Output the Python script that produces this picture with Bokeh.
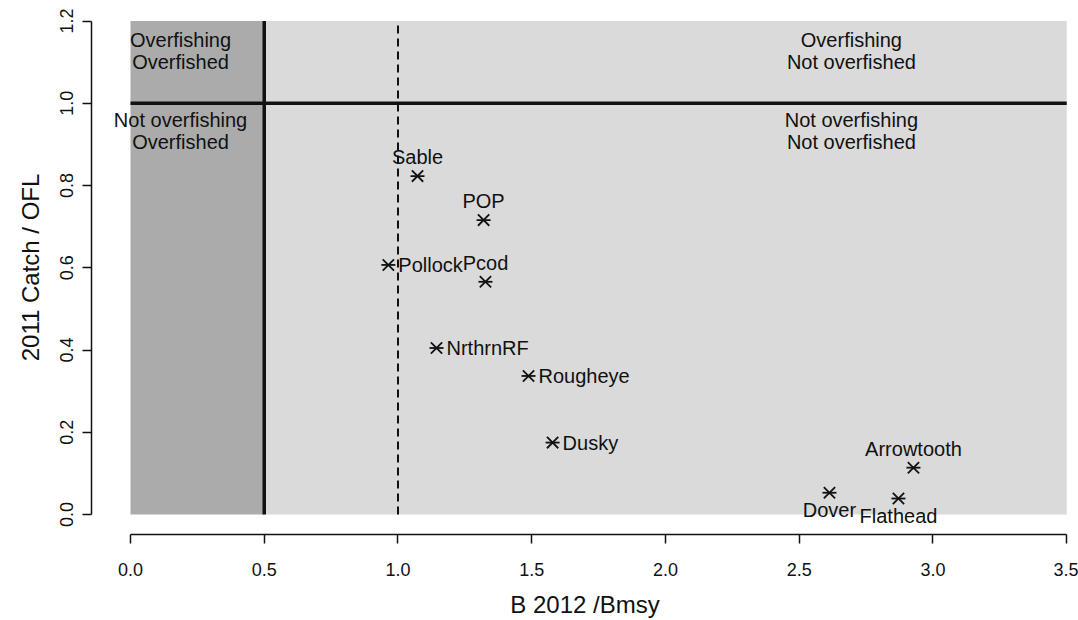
from bokeh.plotting import figure
from bokeh.models import FixedTicker, NumeralTickFormatter, ColumnDataSource
from bokeh.core.properties import value
from bokeh.embed import file_html
from bokeh.resources import INLINE

# ---------------- data ----------------
stocks = ["Sable", "POP", "Pollock", "Pcod", "NrthrnRF", "Rougheye", "Dusky",
          "Arrowtooth", "Dover", "Flathead"]
b_ratio = [1.073, 1.320, 0.964, 1.327, 1.144, 1.488, 1.578, 2.927, 2.613, 2.871]
catch_ofl = [0.823, 0.716, 0.607, 0.566, 0.405, 0.337, 0.175, 0.114, 0.053, 0.039]
label_side = ["above", "above", "right", "above", "right", "right", "right",
              "above", "below", "below"]

x_ticks = [0.0, 0.5, 1.0, 1.5, 2.0, 2.5, 3.0, 3.5]
y_ticks = [0.0, 0.2, 0.4, 0.6, 0.8, 1.0, 1.2]

b_limit = 0.5      # overfished threshold
b_target = 1.0     # Bmsy
ofl_limit = 1.0    # overfishing threshold
x_lim = (0.0, 3.5)
y_lim = (0.0, 1.2)

quadrant_text = ["Overfishing\nOverfished", "Not overfishing\nOverfished",
                 "Overfishing\nNot overfished", "Not overfishing\nNot overfished"]
quadrant_x = [0.187, 0.187, 2.695, 2.695]
quadrant_y = [1.126, 0.933, 1.126, 0.933]

FONT = "Liberation Sans"

# ---------------- figure ----------------
p = figure(width=1078, height=620,
           x_range=(-0.1458, 3.544), y_range=(-0.0485, 1.25),
           output_backend="svg", toolbar_location=None,
           min_border_left=91, min_border_right=0,
           min_border_top=0, min_border_bottom=85)
p.outline_line_color = None
p.grid.visible = False
p.background_fill_color = "white"
p.border_fill_color = "white"

# background shading (scanned grey)
p.quad(left=[x_lim[0]], right=[b_limit], bottom=[y_lim[0]], top=[y_lim[1]],
       fill_color="#ababab", line_color=None)
p.quad(left=[b_limit], right=[x_lim[1]], bottom=[y_lim[0]], top=[y_lim[1]],
       fill_color="#dadada", line_color=None)

# reference lines
p.segment(x0=[x_lim[0]], x1=[x_lim[1]], y0=[ofl_limit], y1=[ofl_limit],
          line_color="#111111", line_width=3.5)
p.segment(x0=[b_limit], x1=[b_limit], y0=[y_lim[0]], y1=[y_lim[1]],
          line_color="#111111", line_width=3.5)
p.segment(x0=[b_target], x1=[b_target], y0=[y_lim[0]], y1=[y_lim[1]],
          line_color="#111111", line_width=2, line_dash="8 5")

# quadrant labels
p.text(x=quadrant_x, y=quadrant_y, text=quadrant_text,
       text_font=value(FONT), text_font_size="20px", text_color="#111111",
       text_align="center", text_baseline="middle", text_line_height=1.0)

# points: six-armed asterisk (diagonal cross + horizontal bar)
src = ColumnDataSource(dict(x=b_ratio, y=catch_ofl, name=stocks, side=label_side))
p.scatter(x="x", y="y", source=src, marker="x", size=16,
          line_color="#111111", line_width=1.8)
p.scatter(x="x", y="y", source=src, marker="dash", size=14,
          line_color="#111111", line_width=1.8)

# point labels by side
offsets = {"above": dict(x_offset=0, y_offset=-19, text_align="center"),
           "right": dict(x_offset=10, y_offset=0, text_align="left"),
           "below": dict(x_offset=0, y_offset=17, text_align="center")}
for side, opts in offsets.items():
    idx = [i for i, s in enumerate(label_side) if s == side]
    p.text(x=[b_ratio[i] for i in idx], y=[catch_ofl[i] for i in idx],
           text=[stocks[i] for i in idx],
           text_font=value(FONT), text_font_size="20px", text_color="#111111",
           text_baseline="middle", **opts)

# axes (R style)
p.xaxis.ticker = FixedTicker(ticks=x_ticks)
p.yaxis.ticker = FixedTicker(ticks=y_ticks)
p.xaxis.formatter = NumeralTickFormatter(format="0.0")
p.yaxis.formatter = NumeralTickFormatter(format="0.0")
p.xaxis.bounds = x_lim
p.yaxis.bounds = y_lim
for ax in (p.xaxis, p.yaxis):
    ax.axis_line_color = "#111111"
    ax.axis_line_width = 1.5
    ax.major_tick_line_color = "#111111"
    ax.major_tick_line_width = 1.5
    ax.major_tick_in = 0
    ax.major_tick_out = 9
    ax.minor_tick_line_color = None
    ax.major_label_text_font = FONT
    ax.major_label_text_font_size = "18px"
    ax.major_label_text_color = "#111111"
    ax.axis_label_text_font = FONT
    ax.axis_label_text_font_size = "24px"
    ax.axis_label_text_font_style = "normal"
    ax.axis_label_text_color = "#111111"
p.yaxis.major_label_orientation = "vertical"
p.xaxis.axis_label = "B 2012 /Bmsy"
p.yaxis.axis_label = "2011 Catch / OFL"
p.xaxis.major_label_standoff = 19
p.yaxis.major_label_standoff = 9
p.xaxis.axis_label_standoff = 12
p.yaxis.axis_label_standoff = 14

open("out.html", "w").write(file_html(p, INLINE))
